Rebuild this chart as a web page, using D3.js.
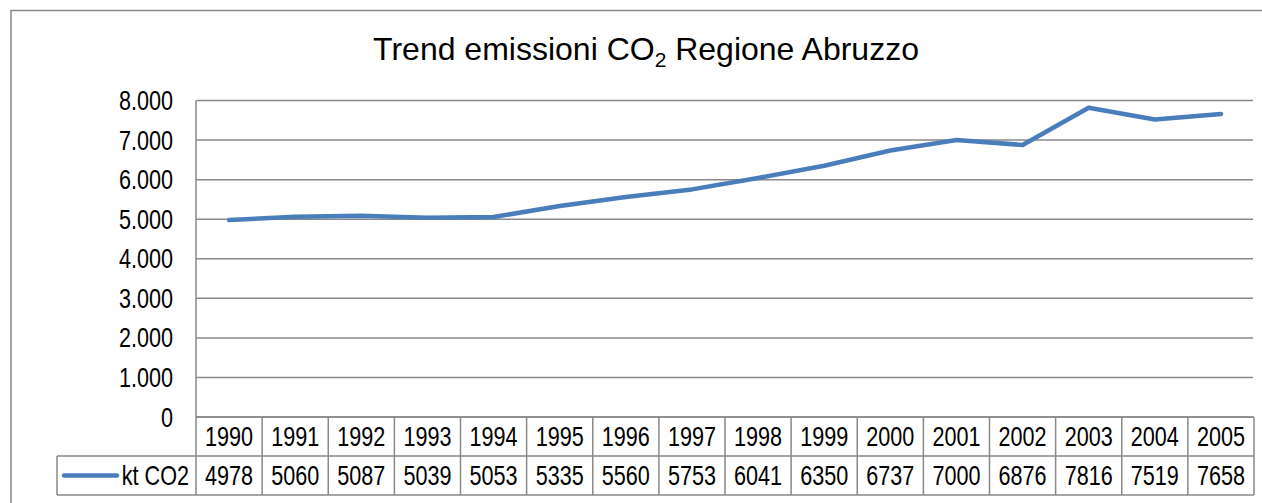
<!DOCTYPE html>
<html>
<head>
<meta charset="utf-8">
<title>Trend emissioni CO2 Regione Abruzzo</title>
<script src="https://cdnjs.cloudflare.com/ajax/libs/d3/7.8.5/d3.min.js"></script>
<style>
  html, body { margin: 0; padding: 0; background: #fff; }
  svg text { font-family: "Liberation Sans", Arial, sans-serif; fill: #000; }
</style>
</head>
<body>
<div id="chart"></div>
<script>
// chart data
var years = ["1990","1991","1992","1993","1994","1995","1996","1997","1998","1999","2000","2001","2002","2003","2004","2005"];
var ktCO2 = [4978, 5060, 5087, 5039, 5053, 5335, 5560, 5753, 6041, 6350, 6737, 7000, 6876, 7816, 7519, 7658];
var yTicks = [0, 1000, 2000, 3000, 4000, 5000, 6000, 7000, 8000];
var seriesName = "kt CO2";

var width = 1262, height = 503;
var plot = {left: 196, right: 1254, top: 100.5, bottom: 417};
var rowH = 39;
var squeeze = 0.8;   // text in the original looks horizontally compressed
var fontPx = "27px";
var gridColor = "#898989";
var lineColor = "#4a7ebb";

var itFormat = d3.formatLocale({decimal: ",", thousands: ".", grouping: [3], currency: ["€", ""]}).format(",d");

var svg = d3.select("#chart").append("svg")
  .attr("width", width)
  .attr("height", height);

// outer frame (cut off at right and bottom like the original)
svg.append("rect")
  .attr("x", 11).attr("y", 10.5)
  .attr("width", 1300).attr("height", 600)
  .attr("fill", "none")
  .attr("stroke", gridColor)
  .attr("stroke-width", 1.5);

// title with subscript
var title = svg.append("text")
  .attr("x", 646)
  .attr("y", 60)
  .attr("text-anchor", "middle")
  .style("font-size", "32px");
title.append("tspan").text("Trend emissioni CO");
title.append("tspan").attr("dy", 7).style("font-size", "21px").text("2");
title.append("tspan").attr("dy", -7).text(" Regione Abruzzo");

// scales
var x = d3.scaleBand()
  .domain(years)
  .range([plot.left, plot.right]);

var y = d3.scaleLinear()
  .domain([0, 8000])
  .range([plot.bottom, plot.top]);

// gridlines
svg.append("g")
  .selectAll("line")
  .data(yTicks)
  .enter().append("line")
    .attr("x1", plot.left)
    .attr("x2", plot.right - 1)
    .attr("y1", function(d) { return y(d); })
    .attr("y2", function(d) { return y(d); })
    .attr("stroke", gridColor)
    .attr("stroke-width", 1.5);

// y axis labels
svg.append("g")
  .selectAll("text")
  .data(yTicks)
  .enter().append("text")
    .attr("text-anchor", "end")
    .attr("transform", function(d) { return "translate(173," + (y(d) + 9.5) + ") scale(" + squeeze + ",1)"; })
    .style("font-size", fontPx)
    .text(function(d) { return itFormat(d); });

// y axis line (continues down as the table border)
svg.append("line")
  .attr("x1", plot.left).attr("x2", plot.left)
  .attr("y1", plot.top).attr("y2", plot.bottom + rowH * 2)
  .attr("stroke", gridColor)
  .attr("stroke-width", 1.5);

// data table
var table = svg.append("g")
  .attr("fill", "none")
  .attr("stroke", gridColor)
  .attr("stroke-width", 1.5);

// horizontal table lines
table.append("line")
  .attr("x1", plot.left).attr("x2", plot.right)
  .attr("y1", plot.bottom).attr("y2", plot.bottom);
table.append("line")
  .attr("x1", 57).attr("x2", plot.right)
  .attr("y1", plot.bottom + rowH).attr("y2", plot.bottom + rowH);
table.append("line")
  .attr("x1", 57).attr("x2", plot.right)
  .attr("y1", plot.bottom + rowH * 2).attr("y2", plot.bottom + rowH * 2);
table.append("line")
  .attr("x1", 57).attr("x2", 57)
  .attr("y1", plot.bottom + rowH).attr("y2", plot.bottom + rowH * 2);

// vertical column separators
table.selectAll("line.col")
  .data(years)
  .enter().append("line")
    .attr("class", "col")
    .attr("x1", function(d) { return x(d) + x.bandwidth(); })
    .attr("x2", function(d) { return x(d) + x.bandwidth(); })
    .attr("y1", plot.bottom)
    .attr("y2", plot.bottom + rowH * 2);

// year labels
svg.append("g")
  .selectAll("text")
  .data(years)
  .enter().append("text")
    .attr("text-anchor", "middle")
    .attr("transform", function(d) { return "translate(" + (x(d) + x.bandwidth() / 2) + "," + (plot.bottom + 29) + ") scale(" + squeeze + ",1)"; })
    .style("font-size", fontPx)
    .text(function(d) { return d; });

// value labels
svg.append("g")
  .selectAll("text")
  .data(ktCO2)
  .enter().append("text")
    .attr("text-anchor", "middle")
    .attr("transform", function(d, i) { return "translate(" + (x(years[i]) + x.bandwidth() / 2) + "," + (plot.bottom + rowH + 29) + ") scale(" + squeeze + ",1)"; })
    .style("font-size", fontPx)
    .text(function(d) { return d; });

// legend key in the table
svg.append("line")
  .attr("x1", 64).attr("x2", 117)
  .attr("y1", plot.bottom + rowH * 1.5).attr("y2", plot.bottom + rowH * 1.5)
  .attr("stroke", lineColor)
  .attr("stroke-width", 4.5)
  .attr("stroke-linecap", "round");
svg.append("text")
  .attr("text-anchor", "end")
  .attr("transform", "translate(189," + (plot.bottom + rowH + 29) + ") scale(" + squeeze + ",1)")
  .style("font-size", fontPx)
  .text(seriesName);

// the line
var line = d3.line()
  .x(function(d, i) { return x(years[i]) + x.bandwidth() / 2; })
  .y(function(d) { return y(d); });

svg.append("path")
  .datum(ktCO2)
  .attr("d", line)
  .attr("fill", "none")
  .attr("stroke", lineColor)
  .attr("stroke-width", 4.5)
  .attr("stroke-linejoin", "round")
  .attr("stroke-linecap", "round");
</script>
</body>
</html>
